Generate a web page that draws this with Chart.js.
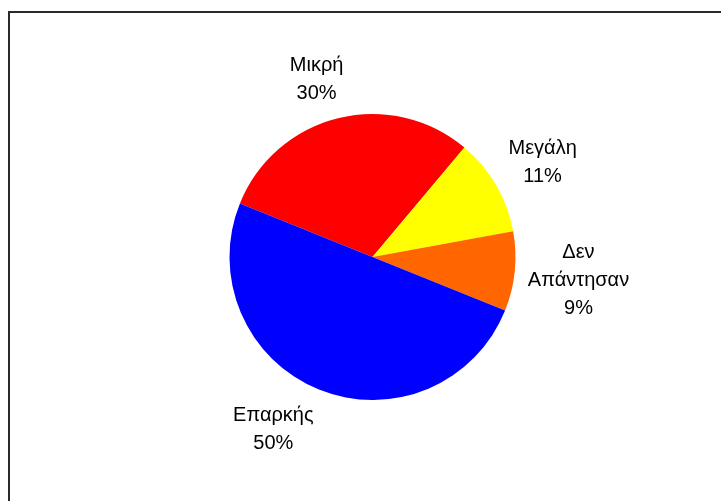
<!DOCTYPE html>
<html>
<head>
<meta charset="utf-8">
<script src="https://cdn.jsdelivr.net/npm/chart.js@4"></script>
<style>
  html, body { margin: 0; padding: 0; background: #fff; }
  #wrap { position: relative; width: 721px; height: 501px; overflow: hidden; }
  #frame {
    position: absolute; left: 8px; top: 11px; width: 760px; height: 560px;
    border-left: 2px solid #2a2a2a; border-top: 2px solid #2a2a2a;
  }
  canvas { position: absolute; left: 0; top: 0; }
</style>
</head>
<body>
<div id="wrap">
  <div id="frame"></div>
  <canvas id="pieChart" width="721" height="501"></canvas>
</div>
<script>
// ΚΑΤΑΝΟΜΗ ΑΠΑΝΤΗΣΕΩΝ
const labels = ["Μικρή", "Μεγάλη", "Δεν Απάντησαν", "Επαρκής"];
const labelLines = [["Μικρή"], ["Μεγάλη"], ["Δεν", "Απάντησαν"], ["Επαρκής"]];
const values = [30, 11, 9, 50];
const colors = ["#FF0000", "#FFFF00", "#FF6600", "#0000FF"];

// small nudges for the outside labels (px)
const labelNudge = [[-8, 15], [-1, 5], [9, 3], [-25, -11]];

const outsideLabels = {
  id: "outsideLabels",
  afterDatasetsDraw(chart) {
    const ctx = chart.ctx;
    const meta = chart.getDatasetMeta(0);
    const total = values.reduce((a, b) => a + b, 0);
    ctx.save();
    ctx.fillStyle = "#000";
    ctx.font = "20px 'Liberation Sans', Arial, sans-serif";
    ctx.textAlign = "center";
    ctx.textBaseline = "middle";
    meta.data.forEach((arc, i) => {
      const p = arc.getProps(["x", "y", "startAngle", "endAngle", "outerRadius"], true);
      const mid = (p.startAngle + p.endAngle) / 2;
      const d = p.outerRadius + 55;
      const cx = p.x + Math.cos(mid) * d + labelNudge[i][0];
      const cy = p.y + Math.sin(mid) * d + labelNudge[i][1];
      const lines = labelLines[i].concat([Math.round((values[i] / total) * 100) + "%"]);
      const lh = 28;
      const top = cy - ((lines.length - 1) * lh) / 2;
      lines.forEach((t, k) => ctx.fillText(t, cx, top + k * lh));
    });
    ctx.restore();
  },
};

new Chart(document.getElementById("pieChart"), {
  type: "pie",
  data: {
    labels: labels,
    datasets: [
      {
        data: values,
        backgroundColor: colors,
        borderWidth: 0,
      },
    ],
  },
  options: {
    responsive: false,
    animation: false,
    rotation: 292,
    layout: {
      padding: { left: 229.5, right: 205.5, top: 114, bottom: 101 },
    },
    plugins: {
      legend: { display: false },
      tooltip: { enabled: false },
    },
  },
  plugins: [outsideLabels],
});
</script>
</body>
</html>
